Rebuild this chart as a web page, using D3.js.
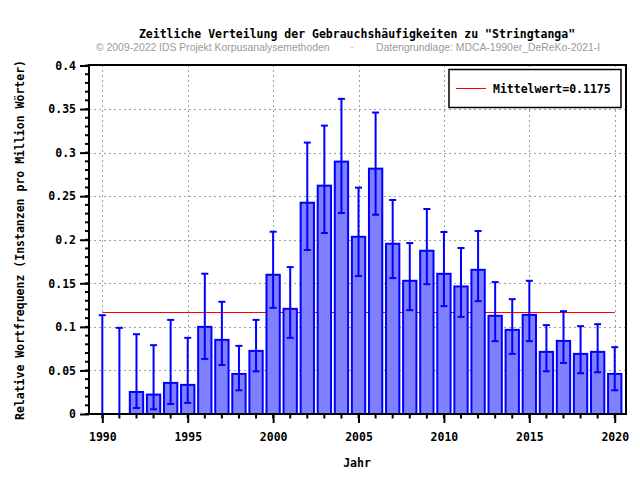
<!DOCTYPE html>
<html><head><meta charset="utf-8">
<script src="https://cdn.jsdelivr.net/npm/d3@7"></script>
<style>body{margin:0;background:#fff}svg{display:block}</style>
</head><body>
<svg id="c" width="640" height="480"></svg>
<script>
const years = d3.range(1990, 2021);
const values = [0, 0, 0.0253, 0.0223, 0.0357, 0.0334, 0.1, 0.0851, 0.046, 0.0724,
  0.1598, 0.1207, 0.2425, 0.2621, 0.2897, 0.2034, 0.2816, 0.1954, 0.1529, 0.1874,
  0.1609, 0.1464, 0.1655, 0.1127, 0.0966, 0.1138, 0.0713, 0.0839, 0.069, 0.0713, 0.046];
const upper = [0.1134, 0.0989, 0.0916, 0.079, 0.108, 0.0874, 0.161, 0.1288, 0.0782, 0.108,
  0.2092, 0.1686, 0.3115, 0.331, 0.3617, 0.2598, 0.346, 0.2456, 0.1962, 0.2353,
  0.2089, 0.1905, 0.21, 0.1514, 0.1318, 0.1529, 0.102, 0.118, 0.1008, 0.1031, 0.0767];
const lower = [0, 0, 0.0069, 0.0054, 0.0115, 0.0127, 0.0632, 0.0563, 0.0272, 0.049,
  0.1218, 0.0874, 0.1882, 0.2077, 0.2307, 0.1583, 0.2287, 0.156, 0.1192, 0.149,
  0.1238, 0.1115, 0.1295, 0.0836, 0.069, 0.0836, 0.049, 0.0586, 0.0468, 0.0479, 0.0272];
const mean = 0.1175;
const yTicks = [0, 0.05, 0.1, 0.15, 0.2, 0.25, 0.3, 0.35, 0.4];
const xTicks = [1990, 1995, 2000, 2005, 2010, 2015, 2020];
const title = 'Zeitliche Verteilung der Gebrauchshäufigkeiten zu "Stringtanga"';
const sub1 = '© 2009-2022 IDS Projekt Korpusanalysemethoden';
const sub2 = 'Datengrundlage: MDCA-1990er_DeReKo-2021-I';
const yLabel = 'Relative Wortfrequenz (Instanzen pro Million Wörter)';
const xLabel = 'Jahr';
const legendLabel = 'Mittelwert=0.1175';

const L = 89, R = 626, T = 65, B = 414;
const x = d3.scaleLinear().domain([1989.22, 2020.66]).range([L, R]);
const y = d3.scaleLinear().domain([0, 0.4]).range([B, T + 0.5]);
const svg = d3.select('#c');
const mono = '"DejaVu Sans Mono", monospace';
const fs = '11.5px';

// grid
svg.append('g').selectAll('line').data(yTicks.filter(d => d > 0 && d < 0.4)).join('line')
  .attr('x1', L).attr('x2', R).attr('y1', d => Math.round(y(d)) + 0.5).attr('y2', d => Math.round(y(d)) + 0.5)
  .attr('stroke', '#a0a0a0').attr('stroke-dasharray', '2,3');
svg.append('g').selectAll('line').data(xTicks).join('line')
  .attr('y1', T).attr('y2', B).attr('x1', d => Math.round(x(d)) + 0.5).attr('x2', d => Math.round(x(d)) + 0.5)
  .attr('stroke', '#a0a0a0').attr('stroke-dasharray', '2,3');

// mean line
svg.append('line').attr('x1', x(1990)).attr('x2', x(2020))
  .attr('y1', Math.round(y(mean)) + 0.5).attr('y2', Math.round(y(mean)) + 0.5)
  .attr('stroke', '#ff0000').attr('stroke-width', 1);

// bars
const bw = 0.78;
svg.append('g').selectAll('rect').data(years.map((yr, i) => ({yr, v: values[i]})).filter(d => d.v > 0)).join('rect')
  .attr('x', d => x(d.yr - bw / 2)).attr('width', d => x(d.yr + bw / 2) - x(d.yr - bw / 2))
  .attr('y', d => y(d.v)).attr('height', d => y(0) - y(d.v))
  .attr('fill', '#8080ff').attr('stroke', '#0000ff').attr('stroke-width', 2);

// error bars
const eg = svg.append('g').attr('stroke', '#0000ff').attr('stroke-width', 2);
years.forEach((yr, i) => {
  const cx = x(yr);
  eg.append('line').attr('x1', cx).attr('x2', cx).attr('y1', y(lower[i])).attr('y2', y(upper[i]));
  eg.append('line').attr('x1', cx - 3.5).attr('x2', cx + 3.5).attr('y1', y(upper[i])).attr('y2', y(upper[i]));
  eg.append('line').attr('x1', cx - 3.5).attr('x2', cx + 3.5).attr('y1', y(lower[i])).attr('y2', y(lower[i]));
});

// frame
svg.append('rect').attr('x', L).attr('y', T).attr('width', R - L).attr('height', B - T)
  .attr('fill', 'none').attr('stroke', '#000').attr('stroke-width', 2);

// y axis
const yAxis = d3.axisLeft(y).tickValues(yTicks).tickSize(9).tickPadding(4).tickFormat(d => String(d));
const gy = svg.append('g').attr('transform', `translate(${L},0)`).call(yAxis);
const yMinor = d3.range(0, 41).map(d => d / 100);
svg.append('g').selectAll('line').data(yMinor).join('line')
  .attr('x1', L - 4).attr('x2', L).attr('y1', d => y(d)).attr('y2', d => y(d))
  .attr('stroke', '#000').attr('stroke-width', 2);

// x axis
const xAxis = d3.axisBottom(x).tickValues(xTicks).tickSize(9).tickPadding(10).tickFormat(d3.format('d'));
const gx = svg.append('g').attr('transform', `translate(0,${B})`).call(xAxis);
svg.append('g').selectAll('line').data(years).join('line')
  .attr('x1', d => x(d)).attr('x2', d => x(d)).attr('y1', B).attr('y2', B + 4.5)
  .attr('stroke', '#000').attr('stroke-width', 2);

[gy, gx].forEach(g => {
  g.select('.domain').remove();
  g.selectAll('.tick line').attr('stroke', '#000').attr('stroke-width', 2);
  g.selectAll('.tick text').attr('font-family', mono).attr('font-size', fs).attr('font-weight', 'bold').attr('fill', '#000');
});

// titles
svg.append('text').attr('x', 357).attr('y', 38).attr('text-anchor', 'middle')
  .attr('font-family', mono).attr('font-size', fs).attr('font-weight', 'bold').text(title);
const sf = '"Liberation Sans", Arial, sans-serif';
svg.append('text').attr('x', 96).attr('y', 51)
  .attr('font-family', sf).attr('font-size', '10.4px').attr('fill', '#9a9a9a').text(sub1);
svg.append('text').attr('x', 352).attr('y', 51).attr('text-anchor', 'middle')
  .attr('font-family', sf).attr('font-size', '10.4px').attr('fill', '#9a9a9a').text('·');
svg.append('text').attr('x', 376).attr('y', 51)
  .attr('font-family', sf).attr('font-size', '10.4px').attr('fill', '#9a9a9a').text(sub2);
svg.append('text').attr('transform', 'translate(24,240) rotate(-90)').attr('text-anchor', 'middle')
  .attr('font-family', mono).attr('font-size', fs).attr('font-weight', 'bold').text(yLabel);
svg.append('text').attr('x', 357).attr('y', 467).attr('text-anchor', 'middle')
  .attr('font-family', mono).attr('font-size', fs).attr('font-weight', 'bold').text(xLabel);

// legend
svg.append('rect').attr('x', 449).attr('y', 69.5).attr('width', 172).attr('height', 38)
  .attr('fill', '#fff').attr('stroke', '#000').attr('stroke-width', 1.5);
svg.append('line').attr('x1', 456).attr('x2', 486).attr('y1', 88.5).attr('y2', 88.5).attr('stroke', '#ff0000');
svg.append('text').attr('x', 493).attr('y', 93)
  .attr('font-family', mono).attr('font-size', fs).attr('font-weight', 'bold').text(legendLabel);
</script>
</body></html>
